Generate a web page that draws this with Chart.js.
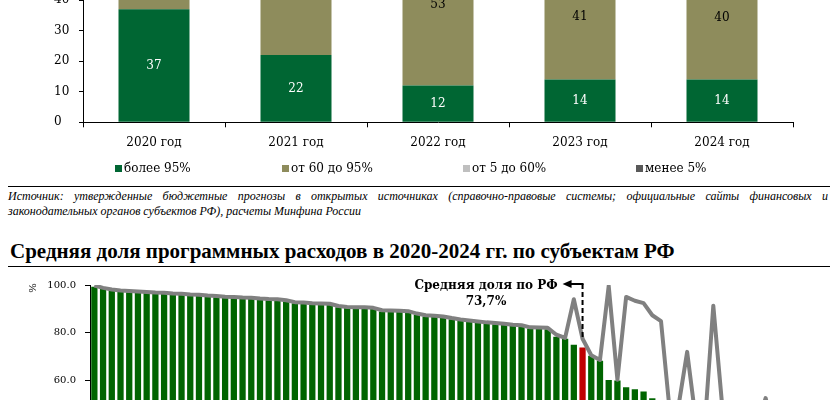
<!DOCTYPE html>
<html lang="ru">
<head>
<meta charset="utf-8">
<script src="https://cdn.jsdelivr.net/npm/chart.js@4.4.1/dist/chart.umd.min.js"></script>
<style>
  html, body { margin: 0; padding: 0; background: #fff; }
  body { width: 835px; height: 400px; overflow: hidden; position: relative; }
  .abs { position: absolute; }
  #topChart { left: 0; top: -170px; }
  #shareChart { left: 0; top: 270px; }
  .legend-item { position: absolute; top: 160px; height: 16px; display: flex; align-items: center;
    font: 12px "DejaVu Serif"; color: #000; white-space: nowrap; }
  .legend-item i { display: inline-block; width: 7px; height: 7px; margin-right: 2px; }
  .rule { left: 8px; width: 822px; height: 1px; background: #000; }
  .note { left: 8px; width: 820px; font: italic 12px "Liberation Serif"; line-height: 15px; color: #000; white-space: nowrap; }
  #note1 { top: 189px; text-align: justify; text-align-last: justify; white-space: normal; }
  #note2 { top: 204px; }
  #title { left: 10px; top: 238px; font: bold 21px "Liberation Serif"; line-height: 26px; color: #000; white-space: nowrap; }
</style>
</head>
<body>
<canvas id="topChart" class="abs" width="835" height="350"></canvas>
<div id="legend"></div>
<div class="abs rule" style="top:186px"></div>
<div id="note1" class="abs note">Источник: утвержденные бюджетные прогнозы в открытых источниках (справочно-правовые системы; официальные сайты финансовых и</div>
<div id="note2" class="abs note">законодательных органов субъектов РФ), расчеты Минфина России</div>
<div id="title" class="abs">Средняя доля программных расходов в 2020-2024 гг. по субъектам РФ</div>
<div class="abs rule" style="top:266px"></div>
<canvas id="shareChart" class="abs" width="835" height="268"></canvas>
<script>
// --- top chart: number of regions by share of program spending
const years = ['2020 год', '2021 год', '2022 год', '2023 год', '2024 год'];
const over95 = [37, 22, 12, 14, 14];
const from60to95 = [48, 63, 53, 41, 40];
const from5to60 = [0, 0, 20, 30, 31];
const under5 = [0, 0, 0, 0, 0];
const groupNames = ['более 95%', 'от 60 до 95%', 'от 5 до 60%', 'менее 5%'];
const groupColors = ['#006633', '#8E8C5C', '#BFBFBF', '#595959'];
const legendLeft = [115, 282, 463, 636];

// --- bottom chart: average share by region, sorted
const rfIndex = 56;
const calloutText = 'Средняя доля по РФ';
const rfLabel = '73,7%';
const shareBars = [
  99.3, 98.3, 97.6, 97.2, 97.0, 96.8, 96.6, 96.3, 96.2, 95.9,
  95.8, 95.5, 95.4, 95.1, 94.9, 94.6, 94.5, 94.2, 94.1, 93.8,
  93.6, 93.5, 93.1, 92.3, 92.1, 91.8, 91.7, 91.6, 90.7, 90.3,
  90.2, 90.1, 89.9, 88.9, 88.8, 88.7, 88.5, 87.5, 86.8, 86.6,
  86.3, 85.6, 85.0, 84.6, 84.2, 83.8, 83.5, 83.2, 82.8, 82.6,
  81.7, 81.6, 81.4, 78.3, 77.4, 74.9, 73.7, 70.3, 68.2, 60.1,
  59.9, 57.0, 56.2, 55.3, 52.4, 49.5, 47.0, 44.8, 42.1, 39.5,
  36.9, 34.0, 31.2, 28.3, 25.1, 22.0, 19.2, 16.4, 13.5, 11.0,
  8.4, 6.1, 4.0, 2.2, 0.8
];
const shareLine = [
  99.8, 98.8, 98.1, 97.7, 97.5, 97.3, 97.1, 96.8, 96.7, 96.4,
  96.3, 96.0, 95.9, 95.6, 95.4, 95.1, 95.0, 94.7, 94.6, 94.3,
  94.1, 94.0, 93.6, 92.8, 92.6, 92.3, 92.2, 92.1, 91.2, 90.8,
  90.7, 90.6, 90.4, 89.4, 89.3, 89.2, 89.0, 88.0, 87.3, 87.1,
  86.8, 86.1, 85.5, 85.1, 84.7, 84.3, 84.0, 83.7, 83.3, 83.1,
  82.2, 82.1, 82.0, 79.1, 77.8, 94.0, 77.4, 70.5, 68.5, 99.6,
  60.2, 95.0, 93.4, 92.4, 87.3, 84.8, 47.0, 49.0, 71.9, 43.0,
  40.0, 91.3, 50.0, 35.0, 28.0, 31.0, 40.0, 52.5, 38.0, 25.0,
  33.0, 20.0, 30.0, 15.0, 22.0
];
const subjects = shareBars.map((_, i) => i === rfIndex ? 'РФ' : 'Субъект ' + (i + 1));

// html legend for the top chart
const legendBox = document.getElementById('legend');
groupNames.forEach((name, i) => {
  const item = document.createElement('div');
  item.className = 'legend-item';
  item.style.left = legendLeft[i] + 'px';
  item.innerHTML = '<i style="background:' + groupColors[i] + '"></i>' + name;
  legendBox.appendChild(item);
});

const segmentLabels = {
  id: 'segmentLabels',
  afterDatasetsDraw(chart) {
    const ctx = chart.ctx;
    ctx.save();
    ctx.font = '12px "DejaVu Serif"';
    ctx.textAlign = 'center';
    ctx.textBaseline = 'middle';
    chart.data.datasets.forEach((ds, di) => {
      chart.getDatasetMeta(di).data.forEach((bar, i) => {
        const v = ds.data[i];
        if (!v) return;
        ctx.fillStyle = di === 0 ? '#fff' : '#000';
        ctx.fillText(v, bar.x, (bar.y + bar.base) / 2);
      });
    });
    ctx.restore();
  }
};

const axisFont = { family: 'DejaVu Serif', size: 12 };

new Chart(document.getElementById('topChart'), {
  type: 'bar',
  data: {
    labels: years,
    datasets: [over95, from60to95, from5to60, under5].map((d, i) => ({
      label: groupNames[i],
      data: d,
      backgroundColor: groupColors[i],
      barPercentage: 0.5,
      categoryPercentage: 1.0
    }))
  },
  options: {
    responsive: false,
    animation: false,
    layout: { padding: { top: 5.6, left: 54, right: 42, bottom: 22.3 } },
    plugins: { legend: { display: false }, tooltip: { enabled: false } },
    scales: {
      x: {
        stacked: true,
        grid: { drawOnChartArea: false, tickLength: 5, color: '#000' },
        border: { color: '#000' },
        ticks: { color: '#000', font: axisFont, padding: 8 }
      },
      y: {
        stacked: true,
        min: 0,
        max: 90,
        ticks: { stepSize: 10, crossAlign: 'far', color: '#000', font: axisFont, padding: 10 },
        grid: { drawOnChartArea: false, tickLength: 4, color: '#000' },
        border: { color: '#000' },
        afterFit: (s) => { s.width = 29; }
      }
    }
  },
  plugins: [segmentLabels]
});

const rfCallout = {
  id: 'rfCallout',
  afterDatasetsDraw(chart) {
    const { ctx, scales: { x, y } } = chart;
    const px = x.getPixelForValue(rfIndex);
    const top = y.getPixelForValue(100) - 1;
    const bottom = y.getPixelForValue(shareLine[rfIndex]);
    ctx.save();
    ctx.strokeStyle = '#000';
    ctx.lineWidth = 2;
    ctx.setLineDash([5, 3]);
    ctx.beginPath();
    ctx.moveTo(px, top);
    ctx.lineTo(px, bottom);
    ctx.stroke();
    ctx.setLineDash([]);
    ctx.beginPath();
    ctx.moveTo(px + 1, top);
    ctx.lineTo(px - 12, top);
    ctx.stroke();
    ctx.fillStyle = '#000';
    ctx.beginPath();
    ctx.moveTo(px - 20, top);
    ctx.lineTo(px - 11, top - 4);
    ctx.lineTo(px - 11, top + 4);
    ctx.closePath();
    ctx.fill();
    ctx.font = 'bold 12px "DejaVu Serif"';
    ctx.textBaseline = 'middle';
    ctx.textAlign = 'right';
    const right = px - 25;
    ctx.fillText(calloutText, right, top + 2);
    const w = ctx.measureText(calloutText).width;
    ctx.textAlign = 'center';
    ctx.fillText(rfLabel, right - w / 2, top + 18);
    // unit label at the top of the value axis
    ctx.font = '10px "DejaVu Serif"';
    ctx.translate(y.left + 33, y.top + 3);
    ctx.rotate(-Math.PI / 2);
    ctx.fillText('%', 0, 0);
    ctx.restore();
  }
};

new Chart(document.getElementById('shareChart'), {
  type: 'bar',
  data: {
    labels: subjects,
    datasets: [
      {
        type: 'line',
        data: shareLine,
        borderColor: '#808080',
        borderWidth: 4,
        borderJoinStyle: 'round',
        pointRadius: 0,
        tension: 0,
        order: 1
      },
      {
        data: shareBars,
        backgroundColor: shareBars.map((_, i) => i === rfIndex ? '#C00000' : '#006400'),
        barPercentage: 0.72,
        categoryPercentage: 1.0,
        order: 2
      }
    ]
  },
  options: {
    responsive: false,
    animation: false,
    layout: { padding: { top: 7.3, left: 0, right: 4, bottom: 6 } },
    plugins: { legend: { display: false }, tooltip: { enabled: false } },
    scales: {
      x: { display: false, offset: true },
      y: {
        min: 0,
        max: 100,
        ticks: {
          stepSize: 20,
          color: '#000',
          font: { family: 'DejaVu Serif', size: 10 },
          padding: 9,
          callback: (v) => v.toFixed(1)
        },
        grid: { drawOnChartArea: false, tickLength: 5, color: '#000' },
        border: { color: '#000' },
        afterFit: (s) => { s.width = 90; }
      }
    }
  },
  plugins: [rfCallout]
});
</script>
</body>
</html>
